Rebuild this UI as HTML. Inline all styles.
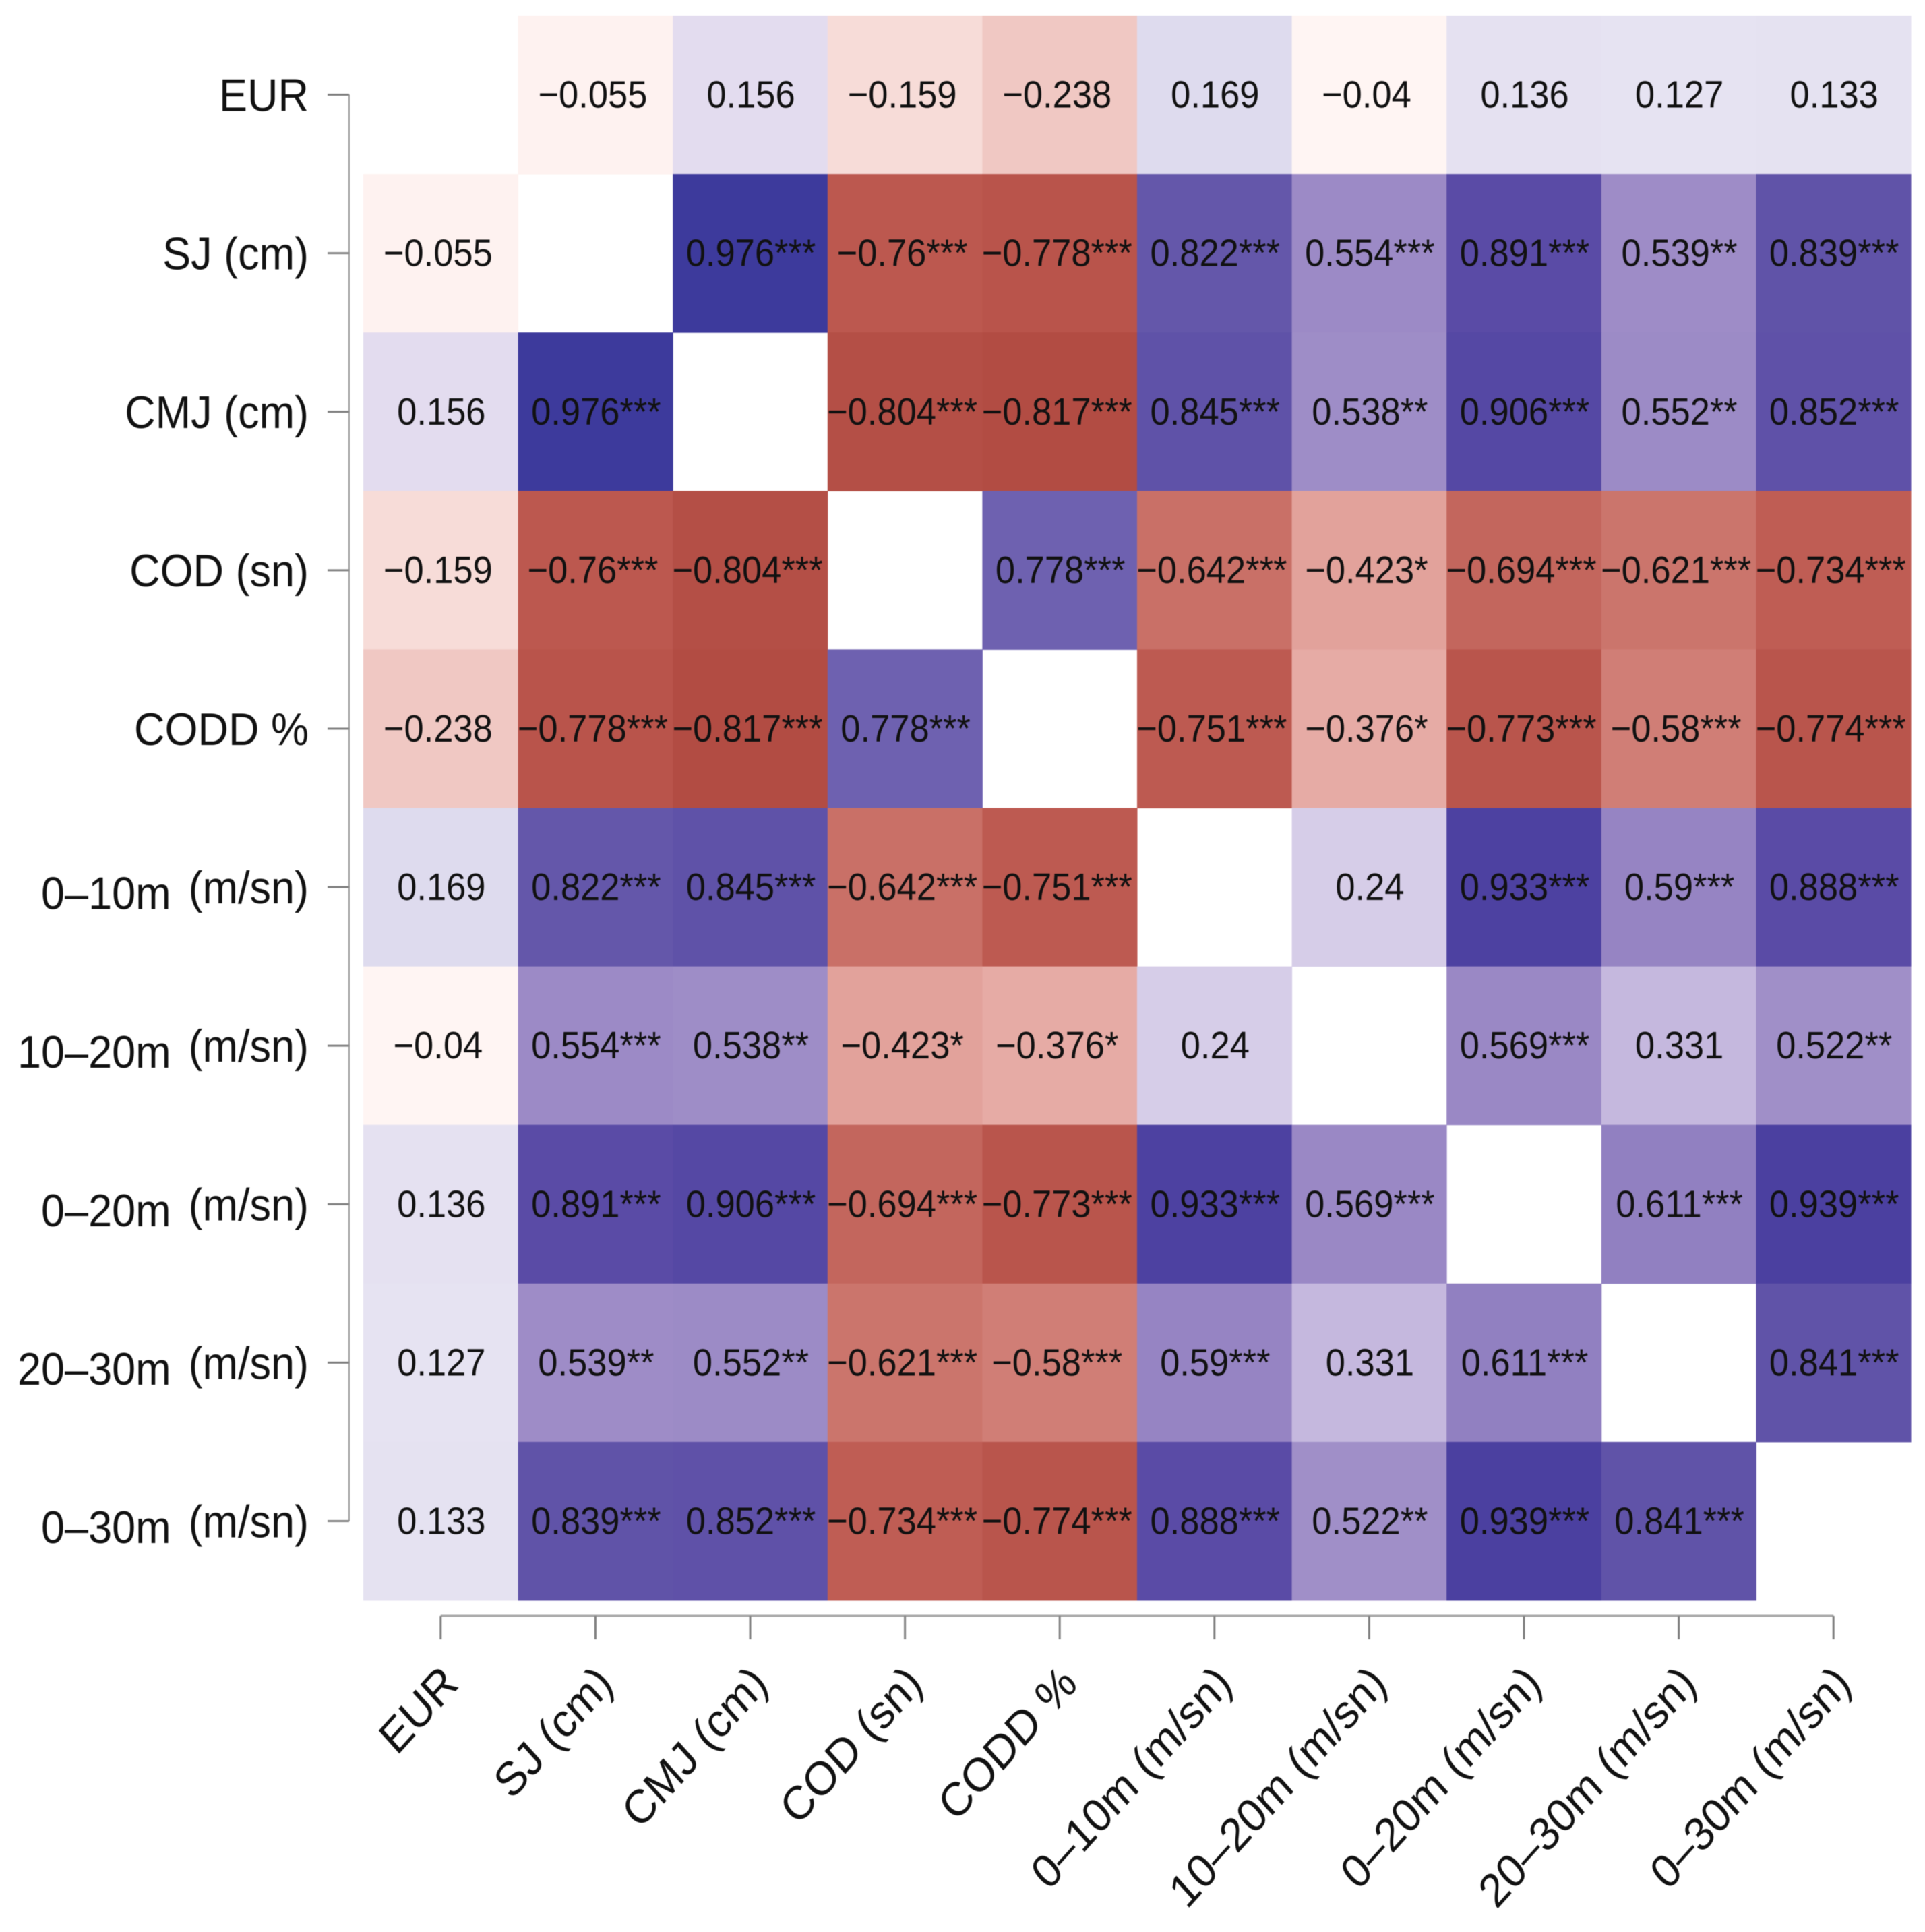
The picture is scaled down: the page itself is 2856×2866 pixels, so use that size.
<!DOCTYPE html>
<html lang="en">
<head>
<meta charset="utf-8">
<title>Correlation heatmap</title>
<style>
html,body{margin:0;padding:0;background:#fff;}
svg{display:block;filter:blur(0.6px);}
text{font-family:"Liberation Sans",Arial,sans-serif;fill:#111;}
</style>
</head>
<body>
<svg id="chart" xmlns="http://www.w3.org/2000/svg" width="2856" height="2866" viewBox="0 0 2856 2866"></svg>
<script>
// ---- Data ----
const categories = ["EUR","SJ (cm)","CMJ (cm)","COD (sn)","CODD %","0–10m (m/sn)","10–20m (m/sn)","0–20m (m/sn)","20–30m (m/sn)","0–30m (m/sn)"];

const valuesEUR  = [null,-0.055,0.156,-0.159,-0.238,0.169,-0.04,0.136,0.127,0.133];
const valuesSJ   = [-0.055,null,0.976,-0.76,-0.778,0.822,0.554,0.891,0.539,0.839];
const valuesCMJ  = [0.156,0.976,null,-0.804,-0.817,0.845,0.538,0.906,0.552,0.852];
const valuesCOD  = [-0.159,-0.76,-0.804,null,0.778,-0.642,-0.423,-0.694,-0.621,-0.734];
const valuesCODD = [-0.238,-0.778,-0.817,0.778,null,-0.751,-0.376,-0.773,-0.58,-0.774];
const values0to10  = [0.169,0.822,0.845,-0.642,-0.751,null,0.24,0.933,0.59,0.888];
const values10to20 = [-0.04,0.554,0.538,-0.423,-0.376,0.24,null,0.569,0.331,0.522];
const values0to20  = [0.136,0.891,0.906,-0.694,-0.773,0.933,0.569,null,0.611,0.939];
const values20to30 = [0.127,0.539,0.552,-0.621,-0.58,0.59,0.331,0.611,null,0.841];
const values0to30  = [0.133,0.839,0.852,-0.734,-0.774,0.888,0.522,0.939,0.841,null];

const starsEUR  = [0,0,0,0,0,0,0,0,0,0];
const starsSJ   = [0,0,3,3,3,3,3,3,2,3];
const starsCMJ  = [0,3,0,3,3,3,2,3,2,3];
const starsCOD  = [0,3,3,0,3,3,1,3,3,3];
const starsCODD = [0,3,3,3,0,3,1,3,3,3];
const stars0to10  = [0,3,3,3,3,0,0,3,3,3];
const stars10to20 = [0,3,2,1,1,0,0,3,0,2];
const stars0to20  = [0,3,3,3,3,3,3,0,3,3];
const stars20to30 = [0,2,2,3,3,3,0,3,0,3];
const stars0to30  = [0,3,3,3,3,3,2,3,3,0];

const valueRows = [valuesEUR,valuesSJ,valuesCMJ,valuesCOD,valuesCODD,values0to10,values10to20,values0to20,values20to30,values0to30];
const starRows  = [starsEUR,starsSJ,starsCMJ,starsCOD,starsCODD,stars0to10,stars10to20,stars0to20,stars20to30,stars0to30];

// ---- Scales ----
const SVG_NS = "http://www.w3.org/2000/svg";
const svg = document.getElementById("chart");
const plot = {left:539, top:23, cellW:229.6, cellH:235.1};
const textStretchY = 1.08;
const rotatedStretchY = 1.11;
function xLeft(i){ return plot.left + i*plot.cellW; }
function yTop(i){ return plot.top + i*plot.cellH; }
function xCenter(i){ return xLeft(i) + plot.cellW/2 + 1; }
function yCenter(i){ return yTop(i) + plot.cellH/2; }

const colorDomain = [-1,-0.817,-0.751,-0.642,-0.423,-0.376,-0.238,-0.159,-0.04,0,0.127,0.156,0.169,0.24,0.331,0.522,0.569,0.778,0.839,0.891,0.939,0.976,1];
const colorRange  = ["#9c362c","#b24c43","#bd5a51","#c97067","#e2a29b","#e6aba5","#f0c8c3","#f7dcd8","#fff5f3","#ffffff","#e6e3f2","#e3dcef","#dedbee","#d6cde8","#c5b8de","#a08fc8","#9a88c5","#6e61b0","#6053a8","#5a4ba6","#4b40a0","#3d3a9c","#37359a"];
function hexToRgb(h){ return [1,3,5].map(function(k){ return parseInt(h.substr(k,2),16); }); }
function colorScale(v){
  const t = Math.max(-1, Math.min(1, v));
  for(let k=0;k<colorDomain.length-1;k++){
    if(t<=colorDomain[k+1]){
      const f=(t-colorDomain[k])/(colorDomain[k+1]-colorDomain[k]);
      const a=hexToRgb(colorRange[k]), b=hexToRgb(colorRange[k+1]);
      return "rgb("+a.map(function(c,n){ return Math.round(c+(b[n]-c)*f); }).join(",")+")";
    }
  }
  return colorRange[colorRange.length-1];
}
function formatValue(v){ return (v<0 ? "\u2212" : "") + String(Math.abs(v)); }
function make(tag, attrs, parent){
  const el = document.createElementNS(SVG_NS, tag);
  for(const k in attrs){ el.setAttribute(k, attrs[k]); }
  parent.appendChild(el);
  return el;
}

// ---- Heatmap cells ----
const cellGroup = make("g", {}, svg);


valueRows.forEach(function(row, r){
  row.forEach(function(v, c){
    if(v === null){ return; }
    const rect = make("rect", {x:xLeft(c), y:yTop(r), width:plot.cellW+0.5, height:plot.cellH+0.5, fill:colorScale(v)}, cellGroup);
    
    
  });
});
const cellTextGroup = make("g", {"font-size":52.5, "text-anchor":"middle"}, svg);


valueRows.forEach(function(row, r){
  row.forEach(function(v, c){
    if(v === null){ return; }
    const px = xCenter(c) - (v<0 ? 5 : 0), py = yCenter(r)+19;
    const t = make("text", {x:0, y:0, transform:"translate("+px+" "+py+") scale(1 "+textStretchY+")"}, cellTextGroup);
    t.textContent = formatValue(v) + "*".repeat(starRows[r][c]);
    
    
  });
});

// ---- Axes ----
const axisGroup = make("g", {fill:"none"}, svg);


const n = categories.length;
const axisX = 518, axisY = 2397;
const yAxisLine = make("line", {x1:axisX, x2:axisX, y1:yCenter(0), y2:yCenter(n-1), stroke:"#b0b0b0", "stroke-width":3}, axisGroup);


const xAxisLine = make("line", {x1:xCenter(0)-1, x2:xCenter(n-1)-1, y1:axisY, y2:axisY, stroke:"#a8a8a8", "stroke-width":3}, axisGroup);



const labelGroup = make("g", {"font-size":63}, svg);



function addYLabel(name, i){
  const py = yCenter(i)+24;
  const t = make("text", {x:0, y:0, "text-anchor":"end", transform:"translate(458 "+py+") scale(1 "+textStretchY+")"}, labelGroup);
  
  
  const parts = name.split(" ");
  if(name.indexOf("–")>=0){
    const a = make("tspan", {dy:8}, t);
    a.textContent = parts[0];
    const b = make("tspan", {dy:-8, dx:26}, t);
    b.textContent = parts[1];
  } else {
    t.textContent = name;
  }
}
function addXLabel(name, i){
  const px = xCenter(i)-1+29, py = 2501;
  const t = make("text", {x:0, y:0, "text-anchor":"end", transform:"translate("+px+" "+py+") scale(1 "+rotatedStretchY+") rotate(-45)"}, labelGroup);
  t.textContent = name;
  
  
}
categories.forEach(function(name, i){
  const yt = make("line", {x1:486, x2:axisX, y1:yCenter(i), y2:yCenter(i), stroke:"#808080", "stroke-width":3}, axisGroup);
  
  
  const xt = make("line", {x1:xCenter(i)-1, x2:xCenter(i)-1, y1:axisY, y2:2432, stroke:"#808080", "stroke-width":3}, axisGroup);
  
  
  addYLabel(name, i);
  addXLabel(name, i);
});
</script>
</body>
</html>
